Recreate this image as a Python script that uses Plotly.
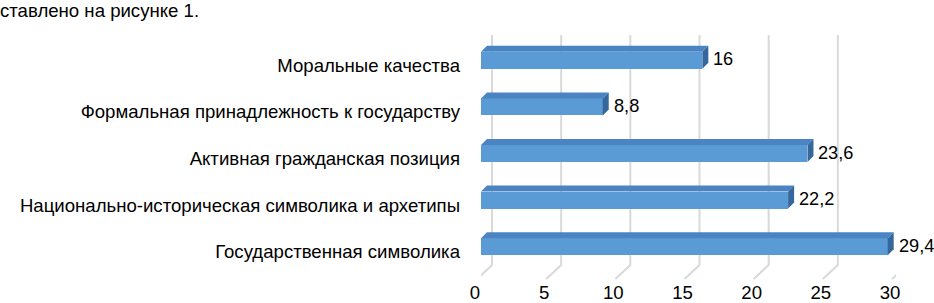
import plotly.graph_objects as go

# ---- data ----
categories = [
    "Государственная символика",
    "Национально-историческая символика и архетипы",
    "Активная гражданская позиция",
    "Формальная принадлежность к государству",
    "Моральные качества",
]
values = [29.4, 22.2, 23.6, 8.8, 16]
x_ticks = [0, 5, 10, 15, 20, 25, 30]
heading = "ставлено на рисунке 1."

# ---- style ----
W, H = 934, 303
ML, MR, MT, MB = 481, 38, 37, 33
XMAX = 30
FONT = "Liberation Sans, Arial, sans-serif"
FS = 18.6
FS_VAL = 18.2
FRONT = "#5B9BD5"
TOP = "#4A84C2"
SIDE = "#35679C"
GRID = "#d9d9d9"
BAR_W = 0.365

plot_w = W - ML - MR
plot_h = H - MT - MB
px_per_x = plot_w / XMAX
px_per_y = plot_h / (len(categories))
DEPTH_PX = 6
dx = DEPTH_PX / px_per_x
dy = DEPTH_PX / px_per_y

ys = list(range(len(categories)))

fig = go.Figure()

# front faces
fig.add_trace(go.Bar(
    x=values, y=ys, orientation="h", width=BAR_W,
    marker=dict(color=FRONT, line=dict(width=0)),
    hoverinfo="skip", showlegend=False,
))

# top and side faces (3D effect), derived from the values
for yi, v in zip(ys, values):
    top = yi + BAR_W / 2
    bot = yi - BAR_W / 2
    fig.add_trace(go.Scatter(
        x=[0, v, v + dx, dx, 0], y=[top, top, top + dy, top + dy, top],
        fill="toself", fillcolor=TOP, mode="lines", line=dict(width=0, color=TOP),
        hoverinfo="skip", showlegend=False,
    ))
    fig.add_trace(go.Scatter(
        x=[v, v + dx, v + dx, v, v], y=[top, top + dy, bot + dy, bot, top],
        fill="toself", fillcolor=SIDE, mode="lines", line=dict(width=0, color=SIDE),
        hoverinfo="skip", showlegend=False,
    ))

# back-wall gridlines + floor diagonals
shapes = []
for t in x_ticks:
    shapes.append(dict(
        type="path", xref="x", yref="paper",
        xsizemode="pixel", ysizemode="pixel", xanchor=t, yanchor=0,
        path="M 11,235 L 11,5 L -4,-9",
        line=dict(color=GRID, width=2), layer="below",
    ))

# value labels
annotations = []
for yi, v in zip(ys, values):
    txt = (f"{v:g}").replace(".", ",")
    annotations.append(dict(
        x=v, y=yi, xref="x", yref="y", text=txt, showarrow=False,
        xanchor="left", yanchor="middle", xshift=9, yshift=1,
        font=dict(family=FONT, size=FS_VAL, color="#000"),
    ))

fig.update_layout(
    width=W, height=H,
    margin=dict(l=ML, r=MR, t=MT, b=MB, pad=0, autoexpand=False),
    paper_bgcolor="white", plot_bgcolor="white",
    bargap=0,
    shapes=shapes,
    annotations=annotations,
    title=dict(
        text=heading, x=0, y=1 - 10 / H, xref="container", yref="container",
        xanchor="left", yanchor="middle", automargin=False,
        font=dict(family=FONT, size=FS, color="#000"),
    ),
    xaxis=dict(
        range=[0, XMAX], tickvals=x_ticks, ticktext=[str(t) for t in x_ticks],
        showgrid=False, zeroline=False, showline=False, ticks="",
        tickfont=dict(family=FONT, size=FS, color="#000"), automargin=False,
        ticklabelstandoff=9, ticklabelshift=-6, fixedrange=True,
    ),
    yaxis=dict(
        range=[-0.5, len(categories) - 0.5], tickvals=ys, ticktext=categories,
        showgrid=False, zeroline=False, showline=False, ticks="",
        tickfont=dict(family=FONT, size=FS, color="#000"), automargin=False,
        ticklabelstandoff=20, ticklabelshift=5, fixedrange=True,
    ),
    showlegend=False,
)

fig.write_html("out.html", config={"displayModeBar": False},
               post_script="document.body.style.margin='0px';")
